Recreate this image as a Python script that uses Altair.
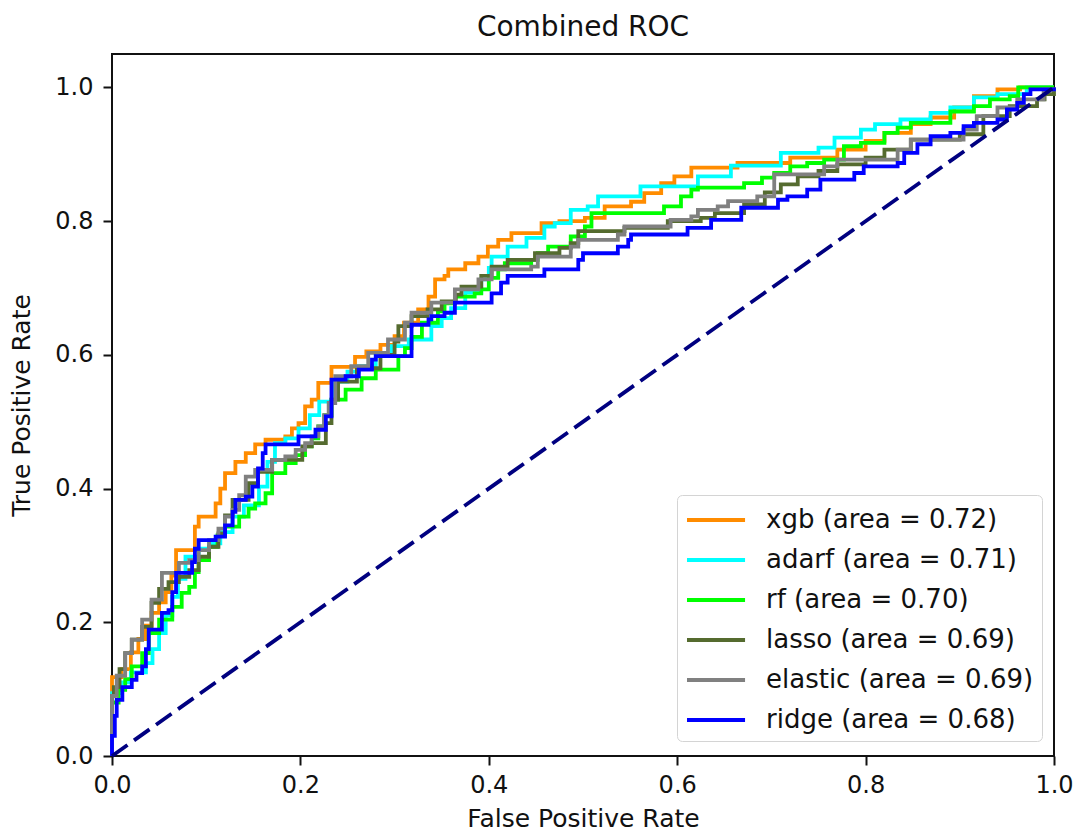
import altair as alt
import pandas as pd

labels = ["xgb (area = 0.72)", "adarf (area = 0.71)", "rf (area = 0.70)",
          "lasso (area = 0.69)", "elastic (area = 0.69)", "ridge (area = 0.68)"]
colors = ["#ff8c00", "#00ffff", "#00ff00", "#556b2f", "#808080", "#0000ff"]

xgb_fpr = [0, 0.0, 0.01, 0.02, 0.028, 0.036, 0.042, 0.05, 0.057, 0.063, 0.068, 0.088, 0.092, 0.110, 0.115,
           0.120, 0.131, 0.142, 0.152, 0.163, 0.184, 0.191, 0.198, 0.205, 0.212, 0.219, 0.233, 0.258, 0.27,
           0.285, 0.30, 0.31, 0.325, 0.336, 0.343, 0.353, 0.357, 0.375, 0.389, 0.399, 0.410, 0.424, 0.456,
           0.475, 0.502, 0.523, 0.551, 0.565, 0.583, 0.597, 0.615, 0.664, 0.72, 0.77, 0.80, 0.82, 0.848,
           0.869, 0.894, 0.915, 0.940, 0.964, 1.0]
xgb_tpr = [0, 0.118, 0.13, 0.155, 0.175, 0.195, 0.214, 0.23, 0.245, 0.27, 0.308, 0.343, 0.358, 0.378, 0.40,
           0.423, 0.440, 0.453, 0.466, 0.473, 0.478, 0.490, 0.498, 0.523, 0.533, 0.558, 0.582, 0.597, 0.605,
           0.615, 0.628, 0.648, 0.668, 0.687, 0.713, 0.718, 0.728, 0.737, 0.747, 0.762, 0.772, 0.782, 0.797,
           0.80, 0.805, 0.822, 0.829, 0.842, 0.857, 0.867, 0.880, 0.887, 0.895, 0.907, 0.92, 0.932, 0.945,
           0.955, 0.970, 0.987, 0.997, 1.0, 1.0]

adarf_fpr = [0, 0.0, 0.01, 0.02, 0.036, 0.043, 0.05, 0.057, 0.064, 0.07, 0.078, 0.092, 0.103, 0.115, 0.128,
             0.14, 0.156, 0.165, 0.173, 0.184, 0.198, 0.21, 0.22, 0.235, 0.25, 0.262, 0.28, 0.297, 0.315,
             0.339, 0.35, 0.36, 0.375, 0.392, 0.40, 0.403, 0.42, 0.44, 0.459, 0.47, 0.487, 0.505, 0.516,
             0.561, 0.622, 0.657, 0.71, 0.75, 0.767, 0.795, 0.81, 0.837, 0.869, 0.89, 0.915, 0.94, 0.971, 1.0]
adarf_tpr = [0, 0.094, 0.11, 0.125, 0.139, 0.16, 0.184, 0.21, 0.238, 0.265, 0.298, 0.31, 0.318, 0.335, 0.358,
             0.375, 0.403, 0.44, 0.468, 0.475, 0.49, 0.51, 0.53, 0.56, 0.575, 0.583, 0.60, 0.613, 0.623,
             0.643, 0.655, 0.67, 0.693, 0.713, 0.73, 0.747, 0.762, 0.775, 0.792, 0.797, 0.817, 0.822, 0.837,
             0.852, 0.867, 0.883, 0.902, 0.91, 0.925, 0.937, 0.945, 0.952, 0.962, 0.97, 0.985, 0.99, 1.0, 1.0]

rf_fpr = [0, 0.0, 0.007, 0.014, 0.021, 0.032, 0.039, 0.05, 0.064, 0.074, 0.082, 0.088, 0.092, 0.103, 0.112,
          0.120, 0.135, 0.145, 0.152, 0.163, 0.170, 0.184, 0.195, 0.205, 0.212, 0.219, 0.226, 0.233, 0.248,
          0.265, 0.28, 0.304, 0.311, 0.318, 0.329, 0.346, 0.353, 0.364, 0.385, 0.392, 0.40, 0.41, 0.417,
          0.445, 0.452, 0.463, 0.487, 0.502, 0.509, 0.586, 0.604, 0.615, 0.622, 0.671, 0.69, 0.703, 0.720,
          0.738, 0.756, 0.777, 0.795, 0.82, 0.834, 0.848, 0.89, 0.915, 0.932, 0.953, 0.962, 1.0]
rf_tpr = [0, 0.08, 0.099, 0.115, 0.134, 0.154, 0.184, 0.204, 0.223, 0.244, 0.253, 0.275, 0.293, 0.313, 0.33,
          0.343, 0.358, 0.37, 0.378, 0.393, 0.423, 0.438, 0.45, 0.463, 0.475, 0.493, 0.51, 0.533, 0.548,
          0.565, 0.578, 0.598, 0.61, 0.627, 0.648, 0.665, 0.677, 0.687, 0.692, 0.698, 0.715, 0.728, 0.737,
          0.742, 0.752, 0.762, 0.777, 0.792, 0.812, 0.822, 0.837, 0.847, 0.85, 0.857, 0.865, 0.872, 0.882,
          0.887, 0.892, 0.912, 0.917, 0.932, 0.94, 0.947, 0.964, 0.972, 0.982, 0.987, 1.0, 1.0]

lasso_fpr = [0, 0.0, 0.002, 0.008, 0.014, 0.021, 0.032, 0.042, 0.05, 0.06, 0.071, 0.082, 0.092, 0.103, 0.113,
             0.12, 0.128, 0.145, 0.155, 0.170, 0.202, 0.212, 0.227, 0.233, 0.24, 0.26, 0.285, 0.30, 0.304,
             0.318, 0.335, 0.35, 0.365, 0.371, 0.392, 0.403, 0.42, 0.449, 0.475, 0.487, 0.495, 0.544, 0.590,
             0.625, 0.64, 0.671, 0.693, 0.71, 0.728, 0.75, 0.770, 0.80, 0.820, 0.848, 0.90, 0.925, 0.953,
             0.982, 0.99, 1.0]
lasso_tpr = [0, 0.09, 0.103, 0.13, 0.154, 0.174, 0.193, 0.229, 0.25, 0.26, 0.268, 0.278, 0.298, 0.313, 0.333,
             0.36, 0.383, 0.408, 0.425, 0.443, 0.463, 0.468, 0.498, 0.533, 0.56, 0.58, 0.60, 0.62, 0.643,
             0.658, 0.668, 0.68, 0.69, 0.702, 0.718, 0.732, 0.742, 0.752, 0.76, 0.767, 0.785, 0.790, 0.800,
             0.805, 0.812, 0.825, 0.843, 0.855, 0.867, 0.875, 0.885, 0.895, 0.907, 0.922, 0.930, 0.957, 0.972,
             0.982, 0.99, 1.0]

elastic_fpr = [0, 0.0, 0.005, 0.014, 0.021, 0.032, 0.042, 0.053, 0.071, 0.082, 0.092, 0.103, 0.113, 0.120,
               0.128, 0.135, 0.142, 0.152, 0.170, 0.184, 0.195, 0.205, 0.212, 0.219, 0.225, 0.230, 0.237,
               0.254, 0.272, 0.293, 0.311, 0.318, 0.339, 0.364, 0.389, 0.403, 0.445, 0.452, 0.487, 0.495,
               0.537, 0.544, 0.593, 0.615, 0.622, 0.643, 0.654, 0.685, 0.703, 0.756, 0.770, 0.834, 0.848,
               0.904, 0.918, 0.94, 0.961, 0.989, 1.0]
elastic_tpr = [0, 0.09, 0.12, 0.154, 0.174, 0.204, 0.234, 0.274, 0.289, 0.293, 0.308, 0.323, 0.34, 0.358,
               0.368, 0.39, 0.418, 0.428, 0.443, 0.448, 0.458, 0.468, 0.478, 0.493, 0.51, 0.528, 0.568,
               0.583, 0.603, 0.623, 0.648, 0.663, 0.678, 0.698, 0.713, 0.728, 0.732, 0.747, 0.762, 0.772,
               0.780, 0.792, 0.802, 0.807, 0.817, 0.822, 0.830, 0.837, 0.870, 0.882, 0.892, 0.907, 0.922,
               0.937, 0.957, 0.97, 0.982, 0.997, 1.0]

ridge_fpr = [0, 0.0, 0.003, 0.005, 0.011, 0.021, 0.026, 0.032, 0.036, 0.039, 0.053, 0.060, 0.064, 0.068,
             0.085, 0.088, 0.092, 0.11, 0.12, 0.128, 0.131, 0.142, 0.149, 0.155, 0.16, 0.163, 0.198, 0.216,
             0.227, 0.233, 0.248, 0.262, 0.276, 0.28, 0.318, 0.336, 0.339, 0.353, 0.364, 0.403, 0.413, 0.42,
             0.459, 0.495, 0.50, 0.537, 0.548, 0.551, 0.611, 0.636, 0.668, 0.707, 0.717, 0.738, 0.752, 0.788,
             0.798, 0.834, 0.841, 0.855, 0.869, 0.89, 0.904, 0.915, 0.94, 0.950, 0.961, 0.968, 0.975, 1.0]
ridge_tpr = [0, 0.03, 0.06, 0.084, 0.103, 0.114, 0.124, 0.134, 0.16, 0.189, 0.214, 0.218, 0.245, 0.274,
             0.29, 0.31, 0.323, 0.328, 0.345, 0.365, 0.383, 0.388, 0.403, 0.43, 0.453, 0.466, 0.478, 0.488,
             0.508, 0.563, 0.568, 0.578, 0.593, 0.598, 0.645, 0.653, 0.658, 0.663, 0.678, 0.692, 0.708, 0.718,
             0.728, 0.742, 0.752, 0.762, 0.772, 0.780, 0.790, 0.802, 0.820, 0.832, 0.837, 0.847, 0.862, 0.872,
             0.882, 0.887, 0.902, 0.915, 0.927, 0.932, 0.942, 0.947, 0.952, 0.967, 0.977, 0.99, 0.997, 1.0]

diag_x = [0.0, 1.0]
diag_y = [0.0, 1.0]

series = [
    (labels[0], xgb_fpr, xgb_tpr),
    (labels[1], adarf_fpr, adarf_tpr),
    (labels[2], rf_fpr, rf_tpr),
    (labels[3], lasso_fpr, lasso_tpr),
    (labels[4], elastic_fpr, elastic_tpr),
    (labels[5], ridge_fpr, ridge_tpr),
]

FONT = "DejaVu Sans"
TICKS = [0, 0.2, 0.4, 0.6, 0.8, 1.0]

x_enc = alt.X("fpr:Q", title="False Positive Rate",
              scale=alt.Scale(domain=[0, 1], nice=False, zero=False),
              axis=alt.Axis(values=TICKS, format=".1f", labelFlush=False, labelOverlap=False))
y_enc = alt.Y("tpr:Q", title="True Positive Rate",
              scale=alt.Scale(domain=[0, 1.05], nice=False, zero=False),
              axis=alt.Axis(values=TICKS, format=".1f", labelFlush=False, labelOverlap=False))

# stroke-shaped legend symbol: a line starting at the symbol's left edge, 58px long
legend = alt.Legend(
    title=None, orient="none", legendX=565, legendY=441,
    labelFontSize=26, labelFont=FONT, labelColor="#111111", labelLimit=500,
    symbolType="M-1,0H2.87", symbolSize=900, symbolStrokeWidth=4,
    symbolFillColor="transparent",
    labelOffset=47, padding=8, rowPadding=10,
    strokeColor="#d4d4d4", fillColor="white", cornerRadius=5,
)

layers = []
for lab, fx, ty in series:
    df = pd.DataFrame({"fpr": fx, "tpr": ty, "model": lab, "idx": list(range(len(fx)))})
    layers.append(
        alt.Chart(df).mark_line(interpolate="step-after", strokeWidth=3.8).encode(
            x=x_enc, y=y_enc,
            color=alt.Color("model:N", scale=alt.Scale(domain=labels, range=colors), legend=legend),
            order="idx:Q",
        )
    )

diag_df = pd.DataFrame({"fpr": diag_x, "tpr": diag_y})
diag = alt.Chart(diag_df).mark_line(color="#000080", strokeWidth=3.8, strokeDash=[19, 8]).encode(
    x=x_enc, y=y_enc
)

chart = alt.layer(*layers, diag).properties(
    width=942, height=702,
    title=alt.Title("Combined ROC", fontSize=28, font=FONT, fontWeight="normal", color="#111111", offset=12),
    padding={"left": 104, "top": 46, "right": 19, "bottom": 75},
    autosize=alt.AutoSizeParams(type="none"),
).configure_view(
    stroke="#111111", strokeWidth=2
).configure_axis(
    grid=False, domain=False,
    tickSize=9, tickWidth=2, tickColor="#111111",
    labelFont=FONT, labelFontSize=24, labelColor="#111111",
    titleFont=FONT, titleFontSize=25, titleFontWeight="normal", titleColor="#111111",
).configure_axisY(titlePadding=20, labelPadding=10).configure_axisX(titlePadding=9, labelPadding=8)

chart.save("out.html", embed_options={"renderer": "svg", "actions": False})
